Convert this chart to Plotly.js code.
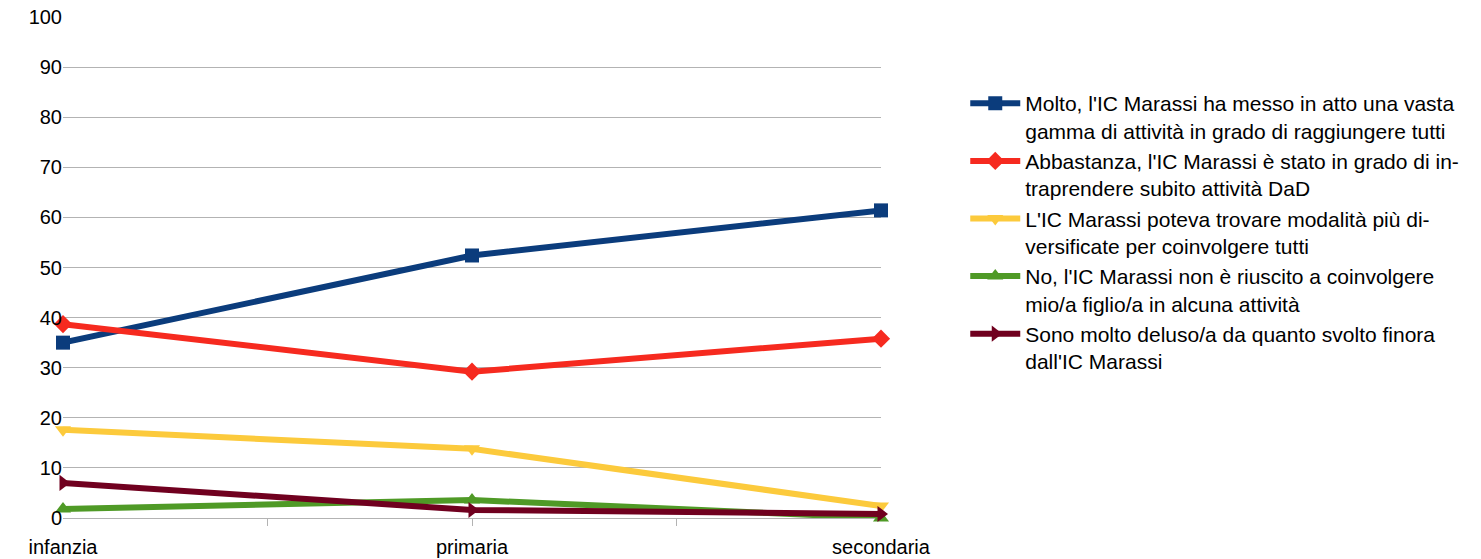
<!DOCTYPE html>
<html><head><meta charset="utf-8">
<script src="https://cdn.plot.ly/plotly-3.0.1.min.js"></script>
<style>body{margin:0;background:#fff}#c{width:1481px;height:559px}</style>
</head><body><div id="c"></div>
<script>
const categories = ["infanzia", "primaria", "secondaria"];
const seriesNames = [
  "Molto, l'IC Marassi ha messo in atto una vasta<br>gamma di attività in grado di raggiungere tutti",
  "Abbastanza, l'IC Marassi è stato in grado di in-<br>traprendere subito attività DaD",
  "L'IC Marassi poteva trovare modalità più di-<br>versificate per coinvolgere tutti",
  "No, l'IC Marassi non è riuscito a coinvolgere<br>mio/a figlio/a in alcuna attività",
  "Sono molto deluso/a da quanto svolto finora<br>dall'IC Marassi"
];
const molto = [35.0, 52.4, 61.4];
const abbastanza = [38.7, 29.2, 35.8];
const poteva = [17.6, 13.8, 2.4];
const no = [1.8, 3.6, 0.0];
const deluso = [7.0, 1.6, 0.8];
const yTicks = [0,10,20,30,40,50,60,70,80,90,100];

const colors = ["#0b3c7c","#f62a1f","#fcca3c","#4f9a26","#70001f"];
const symbols = ["square","diamond","triangle-down","triangle-up","triangle-right"];
const values = [molto, abbastanza, poteva, no, deluso];
const xIdx = categories.map((c,i)=>i);

const traces = values.map((v,i)=>({
  x: xIdx, y: v, name: seriesNames[i], type: "scatter", mode: "lines+markers",
  line: {color: colors[i], width: 6},
  marker: {color: colors[i], symbol: symbols[i], size: 14},
  cliponaxis: false
}));

const layout = {
  width: 1481, height: 559,
  margin: {l: 63, r: 600, t: 17, b: 41},
  paper_bgcolor: "#fff", plot_bgcolor: "#fff",
  font: {family: "Liberation Sans, Arial, sans-serif", size: 20, color: "#000"},
  showlegend: true,
  legend: {x: 1.103, y: 0.868, xanchor: "left", yanchor: "top", valign: "top", font: {size: 21}, itemwidth: 50, tracegroupgap: 0},
  xaxis: {range: [0, 2], tickvals: xIdx, ticktext: categories, showgrid: false, zeroline: false,
          showline: false, ticks: "", tickfont: {size: 20}, ticklabelstandoff: 15,
          minor: {tickvals: [0.5,1,1.5], ticks: "outside", ticklen: 7, tickcolor: "#b3b3b3", showgrid: false}},
  yaxis: {range: [0, 100], tickvals: yTicks, showgrid: true, gridcolor: "#b3b3b3", gridwidth: 1,
          zeroline: true, zerolinecolor: "#b3b3b3", showline: false, ticks: "", tickfont: {size: 20}}
};
Plotly.newPlot("c", traces, layout, {displayModeBar: false});
</script></body></html>
